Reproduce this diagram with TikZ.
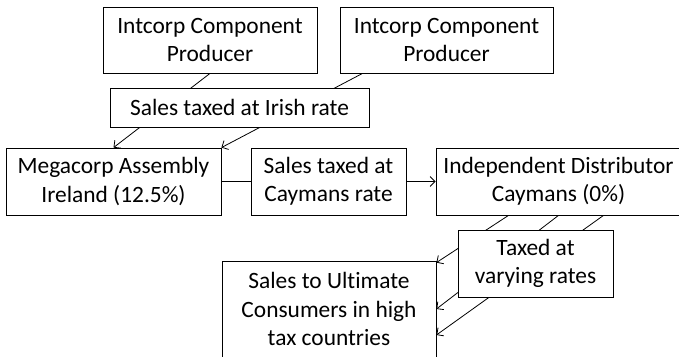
\documentclass[tikz,border=0pt]{standalone}
\usepackage{fontspec}
\setmainfont{Carlito}[Ligatures=NoCommon]
\usepackage{tikz}
\usetikzlibrary{arrows.meta}

\begin{document}
\begin{tikzpicture}[x=1pt, y=-1pt,
    entity/.style={draw, fill=white, align=center, inner sep=0pt, line width=0.8pt,
      font=\fontsize{23.4}{28.5}\selectfont},
    flow/.style={-{Straight Barb[length=5pt, width=10pt]}, line width=0.8pt},
    taxbox/.style={entity}
    ]
    \useasboundingbox (0,0) rectangle (679,356);

    % boxes
    \node[entity, minimum width=214pt, minimum height=66pt] (prodA) at (210,40) {Intcorp Component\\Producer};
    \node[entity, minimum width=213pt, minimum height=66pt] (prodB) at (446.5,40) {Intcorp Component\\Producer};
    \node[entity, minimum width=215pt, minimum height=67pt] (mega) at (113.5,181.5) {Megacorp Assembly\\Ireland (12.5\%)};
    \node[entity, minimum width=245pt, minimum height=67pt] (dist) at (558.5,181.5) {Independent Distributor\\Caymans (0\%)};
    \node[entity, minimum width=214pt, minimum height=96pt] (ultimate) at (329,309) {Sales to Ultimate\\Consumers in high\\tax countries};

    \draw[flow] (prodA.south) -- (mega.north);
    \draw[flow] ([xshift=-84pt]prodB.south) -- (mega.north east);
    \draw[flow] (mega) -- node[taxbox, minimum width=155pt, minimum height=67pt] (cayrate) {Sales taxed at\\Caymans rate} (dist);
    \draw[flow] ([xshift=-50pt]dist.south) -- ([yshift=-2pt]ultimate.north east);
    \draw[flow] (dist.south) -- (ultimate.east);
    \draw[flow] ([xshift=45pt]dist.south) -- ([yshift=-26pt]ultimate.east);

    \node[taxbox, minimum width=259pt, minimum height=39pt] (irish) at (239.5,107.5) {Sales taxed at Irish rate};
    \node[taxbox, minimum width=155pt, minimum height=67pt] (varying) at (535.5,263.5) {Taxed at\\varying rates};
\end{tikzpicture}
\end{document}
